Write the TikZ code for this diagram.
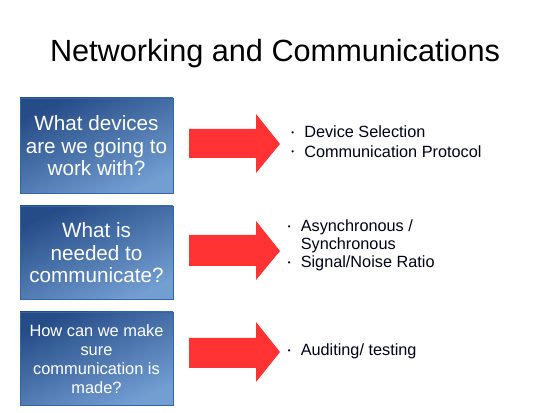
\documentclass[tikz,border=0pt]{standalone}
\usepackage{fontspec}
\setmainfont{Liberation Sans}
\definecolor{boxdark}{RGB}{38,76,135}
\definecolor{boxlight}{RGB}{114,158,210}
\definecolor{boxedge}{RGB}{52,101,164}
\definecolor{arrowred}{RGB}{255,51,51}
\newcommand{\mybul}{\makebox[0pt][r]{\raisebox{0.3ex}{\fontsize{6}{6}\selectfont\textbullet}\hspace{7.5pt}}}
\begin{document}
\begin{tikzpicture}[x=0.75pt,y=-0.75pt,
  qbox/.style={draw=boxedge, line width=0.6pt, shading=axis, top color=boxdark, bottom color=boxlight, shading angle=25},
  qtext/.style={text=white, align=center, font=\fontsize{15.5}{16.9}\selectfont},
  qtextsmall/.style={text=white, align=center, font=\fontsize{12.3}{14.2}\selectfont},
  redarrow/.style={fill=arrowred, draw=none},
  item/.style={anchor=base west, inner sep=0pt, align=left, font=\fontsize{12.2}{13.5}\selectfont, text=black!90!blue}
]
\useasboundingbox (0,0) rectangle (550,413);
\fill[white] (0,0) rectangle (550,413);
% title
\node[anchor=base, inner sep=0pt, font=\fontsize{23}{27}\selectfont] (title) at (275,62) {Networking and Communications};
% boxes
\path[qbox] (20,98) rectangle (173,193);
\node[qtext] (q1) at (96.5,146) {What devices\\are we going to\\work with?};
\path[qbox] (20,206) rectangle (173,299);
\node[qtext] (q2) at (96.5,253) {What is\\needed to\\communicate?};
\path[qbox] (20,312) rectangle (173,405);
\node[qtextsmall] (q3) at (96.5,359) {How can we make\\sure\\communication is\\made?};
% arrows
\fill[redarrow] (189,129) -- (256,129) -- (256,114) -- (280,144) -- (256,173) -- (256,158) -- (189,158) -- cycle;
\fill[redarrow] (189,235) -- (256,235) -- (256,221) -- (280,251) -- (256,280) -- (256,266) -- (189,266) -- cycle;
\fill[redarrow] (189,338) -- (256,338) -- (256,322) -- (280,352) -- (256,382) -- (256,368) -- (189,368) -- cycle;
% items
\node[item] (a1) at (304,138) {\mybul Device Selection};
\node[item] (a2) at (304,157.5) {\mybul Communication Protocol};
\node[item] (b1) at (300.5,250) {\mybul Asynchronous /\\Synchronous};
\node[item] (b2) at (300.5,268) {\mybul Signal/Noise Ratio};
\node[item] (c1) at (300.5,356) {\mybul Auditing/ testing};
\end{tikzpicture}
\end{document}
